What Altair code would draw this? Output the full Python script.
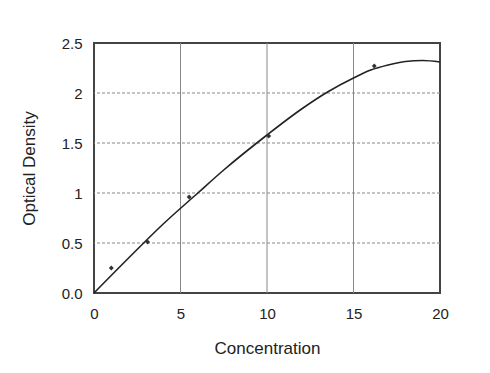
import altair as alt
import pandas as pd

# measured standards
conc = [1.0, 3.1, 5.5, 10.1, 16.2]
od = [0.25, 0.51, 0.96, 1.57, 2.27]

# fitted curve
curve_x = [0, 2, 4, 6, 7.5, 10, 12, 13.5, 15, 16, 17, 18, 19, 20]
curve_y = [0, 0.35, 0.69, 1.0, 1.23, 1.58, 1.84, 2.01, 2.15, 2.23, 2.28, 2.315, 2.325, 2.31]

x_ticks = [0, 5, 10, 15, 20]
y_ticks = [0, 0.5, 1, 1.5, 2, 2.5]

pts = pd.DataFrame({"x": conc, "y": od})
crv = pd.DataFrame({"x": curve_x, "y": curve_y})
vg = pd.DataFrame({"x": [5, 10, 15]})
hg = pd.DataFrame({"y": [0.5, 1, 1.5, 2]})

font = "Liberation Sans"
xs = alt.Scale(domain=[0, 20], nice=False)
ys = alt.Scale(domain=[0, 2.5], nice=False)

xaxis = alt.Axis(values=x_ticks, grid=False, ticks=False, domain=False, labelFlush=False,
                 labelFont=font, labelFontSize=15, labelColor="#222", labelPadding=13,
                 title="Concentration", titleFont=font, titleFontSize=17,
                 titleFontWeight="normal", titleColor="#222", titlePadding=19)
yaxis = alt.Axis(values=y_ticks, grid=False, ticks=False, domain=False, format="~g",
                 labelFlush=False,
                 labelExpr="datum.value == 0 ? '0.0' : datum.label",
                 labelFont=font, labelFontSize=15, labelColor="#222", labelPadding=12,
                 title="Optical Density", titleFont=font, titleFontSize=17,
                 titleFontWeight="normal", titleColor="#222", titlePadding=23)

vgrid = alt.Chart(vg).mark_rule(color="#888", strokeWidth=1).encode(
    x=alt.X("x:Q", scale=xs, axis=xaxis))
hgrid = alt.Chart(hg).mark_rule(color="#888", strokeWidth=1, strokeDash=[3, 2]).encode(
    y=alt.Y("y:Q", scale=ys, axis=yaxis))
line = alt.Chart(crv).mark_line(color="#222", strokeWidth=1.6, interpolate="monotone").encode(
    x=alt.X("x:Q", scale=xs), y=alt.Y("y:Q", scale=ys))
points = alt.Chart(pts).mark_point(shape="diamond", filled=True, color="#333", size=24, opacity=1).encode(
    x=alt.X("x:Q", scale=xs), y=alt.Y("y:Q", scale=ys))

chart = alt.layer(vgrid, hgrid, line, points).properties(
    width=346, height=250,
    background="white",
    autosize=alt.AutoSizeParams(type="none"),
    padding={"left": 86, "top": 35, "right": 36, "bottom": 70},
).configure_view(stroke="#444", strokeWidth=2)

chart.save("out.html", embed_options={"renderer": "svg", "actions": False})
